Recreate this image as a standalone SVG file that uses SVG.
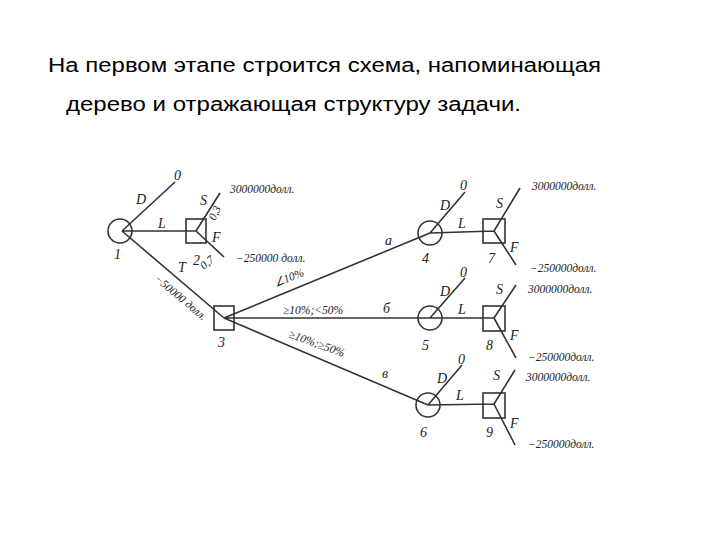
<svg xmlns="http://www.w3.org/2000/svg" width="720" height="540" viewBox="0 0 720 540">
<style>
.t{font-family:"Liberation Sans",Arial,sans-serif;font-size:20px;fill:#000}
.h{font-family:"Liberation Serif",serif;font-style:italic;font-size:14px;fill:#222}
.s{font-family:"Liberation Serif",serif;font-style:italic;font-size:11.5px;fill:#222}
.l{stroke:#333;stroke-width:1.6;fill:none}
</style>
<rect width="720" height="540" fill="#fff"/>
<text class="t" x="48" y="72" textLength="553" lengthAdjust="spacingAndGlyphs">На первом этапе строится схема, напоминающая</text>
<text class="t" x="66" y="111" textLength="455" lengthAdjust="spacingAndGlyphs">дерево и отражающая структуру задачи.</text>
<g id="connectors" class="l">
<path d="M122 231 L175 182 M122 231 L196 231 M196 231 L220 193 M196 231 L224 257 M122 231 L224 318"/>
<path d="M224 318 L430 233 M224 318 L430 318 M224 318 L428 405"/>
<path d="M430 233 L465 192 M430 233 L494 231 M494 231 L520 188 M494 231 L516 265"/>
<path d="M430 318 L465 278 M430 318 L494 318 M494 318 L516 285 M494 318 L516 358"/>
<path d="M428 405 L462 365 M428 405 L494 404 M494 404 L515 370 M494 404 L515 445"/>
</g>
<g id="n1"><circle class="l" cx="120" cy="231" r="12"/><text class="h" x="114" y="259">1</text></g>
<g id="n2"><rect class="l" x="186" y="219" width="20" height="24"/><text class="h" x="193" y="265">2</text></g>
<g id="n3"><rect class="l" x="214" y="306" width="20" height="24"/><text class="h" x="218" y="347">3</text></g>
<g id="n4"><circle class="l" cx="430" cy="233" r="12"/><text class="h" x="422" y="263">4</text></g>
<g id="n5"><circle class="l" cx="430" cy="318" r="12"/><text class="h" x="422" y="350">5</text></g>
<g id="n6"><circle class="l" cx="428" cy="405" r="12"/><text class="h" x="420" y="437">6</text></g>
<g id="n7"><rect class="l" x="483" y="219" width="22" height="24"/><text class="h" x="488" y="263">7</text></g>
<g id="n8"><rect class="l" x="483" y="306" width="22" height="25"/><text class="h" x="486" y="350">8</text></g>
<g id="n9"><rect class="l" x="483" y="393" width="22" height="25"/><text class="h" x="486" y="437">9</text></g>
<g id="labels">
<text class="h" x="174" y="180">0</text><text class="h" x="136" y="204">D</text><text class="h" x="158" y="228">L</text>
<text class="h" x="200" y="205">S</text><text class="s" transform="translate(215,221) rotate(-65)">0,3</text>
<text class="h" x="212" y="242">F</text><text class="s" transform="translate(204,270) rotate(-40)">0,7</text>
<text class="s" x="230" y="193">3000000долл.</text>
<text class="s" x="236" y="262">−250000 долл.</text>
<text class="h" x="178" y="272">T</text>
<text class="s" transform="translate(154,280) rotate(40)">−50000 долл.</text>
<text class="h" x="385" y="245">а</text>
<text class="s" transform="translate(276,287) rotate(-22)">∠10%</text>
<text class="s" x="283" y="314">≥10%;&lt;50%</text><text class="h" x="383" y="313">б</text>
<text class="s" transform="translate(288,337) rotate(20)">≥10%;≥50%</text><text class="h" x="382" y="378">в</text>
<text class="h" x="460" y="190">0</text><text class="h" x="440" y="210">D</text><text class="h" x="458" y="228">L</text>
<text class="h" x="496" y="208">S</text><text class="h" x="510" y="252">F</text>
<text class="h" x="460" y="277">0</text><text class="h" x="440" y="296">D</text><text class="h" x="458" y="314">L</text>
<text class="h" x="496" y="294">S</text><text class="h" x="510" y="340">F</text>
<text class="h" x="458" y="364">0</text><text class="h" x="437" y="383">D</text><text class="h" x="456" y="400">L</text>
<text class="h" x="493" y="380">S</text><text class="h" x="510" y="428">F</text>
<text class="s" x="532" y="190">3000000долл.</text>
<text class="s" x="530" y="272">−250000долл.</text>
<text class="s" x="528" y="293">3000000долл.</text>
<text class="s" x="528" y="361">−250000долл.</text>
<text class="s" x="526" y="381">3000000долл.</text>
<text class="s" x="528" y="448">−250000долл.</text>
</g>
</svg>
